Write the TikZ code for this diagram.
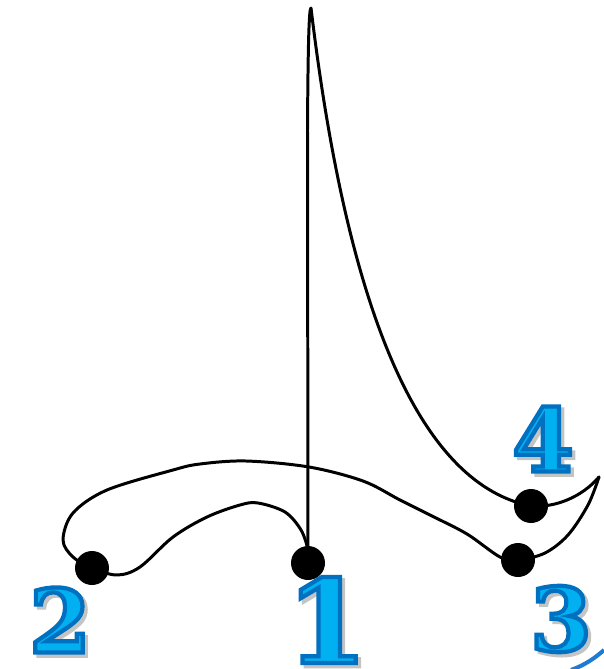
\documentclass[tikz,border=0pt]{standalone}
\usepackage{fontspec}
\setmainfont{Liberation Serif}
\newfontfamily\lblfont{DejaVu Serif}
\definecolor{lblfill}{HTML}{00B0F0}
\definecolor{lblshadow}{HTML}{C4C4C4}
\definecolor{arcblue}{HTML}{1F7BD0}
\tikzset{
  dot/.style={circle, fill=black, inner sep=0pt, minimum size=0.68cm},
  curve/.style={line width=1.7pt, line join=round, line cap=round},
  lblmain/.style={inner sep=0pt, text=lblfill},
  lblshade/.style={inner sep=0pt, text=lblshadow, xshift=1.8pt, yshift=-1.8pt},
}
% text filled and stroked (render mode 2) with a given stroke colour
\newcommand{\strokedtext}[2]{\special{pdf:literal direct 2 Tr 2.4 w #1 RG}#2\special{pdf:literal direct 0 Tr}}
\newcommand{\numlabel}[4]{%
  \node[lblshade] (#1s) at (#2) {\lblfont\bfseries\fontsize{#3}{#3}\selectfont\strokedtext{0.77 0.77 0.77}{#4}};
  \node[lblmain] (#1) at (#2) {\lblfont\bfseries\fontsize{#3}{#3}\selectfont\strokedtext{0 0.439 0.753}{#4}};
}
\begin{document}
\begin{tikzpicture}[x=0.02cm, y=-0.02cm]
\useasboundingbox (0,0) rectangle (603,669);
% dots
\node[dot] (d1) at (308,563) {};
\node[dot] (d2) at (92,568) {};
\node[dot] (d3) at (518,560) {};
\node[dot] (d4) at (531,506) {};
\coordinate (top) at (311,8);
\coordinate (tip) at (599,477);
% vertical stem, peak and descending branch to 4 and the tip
\draw[curve] (d1.center) -- (307.5,130) .. controls (308,45) and (309,8) .. (top)
  .. controls (340,250) and (400,480) .. (d4.center)
  .. controls (555,508) and (582,497) .. (tip);
% from the tip back through 3, the outer arch, 2, the inner arch, to 1
\draw[curve] plot[smooth, tension=0.55] coordinates {(tip) (588,505) (568,535) (545,553) (d3.center) (500,557) (467,534) (432,516) (400,500) (363,481) (309,467) (246,461) (200,464) (173,470) (107,490) (73,513) (63,540) (73,557) (d2.center) (117,575) (140,567) (173,537) (207,517) (240,505) (258,503) (285,512) (301,530) (308,550) (d1.center)};
% blue arc in the corner
\coordinate (arcA) at (571,670);
\coordinate (arcB) at (604,650);
\draw[arcblue, line width=2.3pt] (arcA) .. controls (585,665) and (595,658) .. (arcB);
% labels
\numlabel{l1}{327,620}{66}{1}
\numlabel{l2}{60,620}{50}{2}
\numlabel{l3}{561,619}{50}{3}
\numlabel{l4}{543,439}{50}{4}
\end{tikzpicture}
\end{document}
